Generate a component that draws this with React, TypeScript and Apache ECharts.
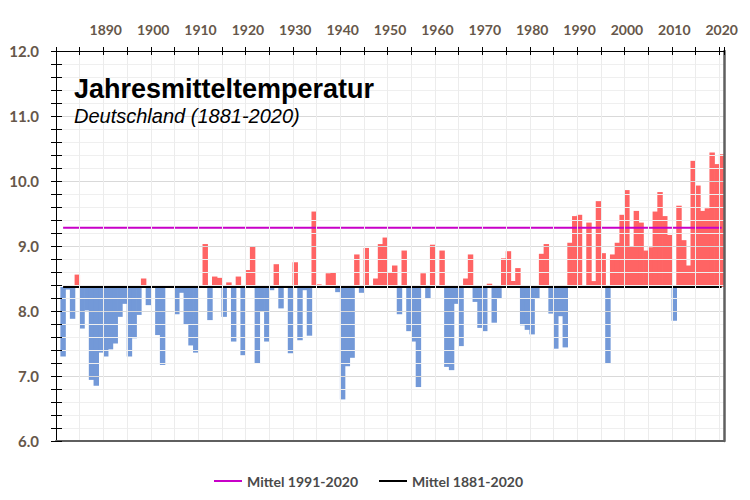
import React, { useEffect, useRef } from "react";
import * as echarts from "echarts";

// Years on the category axis (1880 is an empty leading slot, as in the original)
const YEARS: string[] = Array.from({ length: 141 }, (_, i) => String(1880 + i));

// Annual mean temperature, Germany (°C)
const temps1881_1900 = [7.30, 8.33, 7.88, 8.56, 7.73, 8.01, 6.94, 6.85, 7.36, 7.30, 7.41, 7.50, 7.91, 8.11, 7.30, 7.58, 7.94, 8.50, 8.09, 8.38];
const temps1901_1920 = [7.63, 7.17, 8.37, 8.36, 7.95, 8.28, 7.80, 7.47, 7.36, 8.40, 9.03, 7.86, 8.53, 8.51, 7.91, 8.44, 7.53, 8.53, 7.32, 8.63];
const temps1921_1940 = [8.99, 7.19, 7.99, 7.53, 8.32, 8.72, 8.04, 8.36, 7.35, 8.75, 7.55, 8.32, 7.62, 9.53, 8.41, 8.36, 8.58, 8.59, 8.29, 6.64];
const temps1941_1960 = [7.15, 7.28, 8.87, 8.28, 8.97, 8.37, 8.50, 9.03, 9.13, 8.59, 8.70, 7.95, 8.93, 7.69, 7.53, 6.83, 8.58, 8.20, 9.02, 8.39];
const temps1961_1980 = [8.93, 7.14, 7.09, 8.11, 7.46, 8.50, 8.87, 8.14, 7.74, 7.69, 8.42, 7.82, 8.20, 8.81, 8.92, 8.46, 8.66, 7.78, 7.71, 7.64];
const temps1981_2000 = [8.19, 8.88, 9.03, 7.96, 7.42, 7.92, 7.44, 9.05, 9.46, 9.48, 8.37, 9.36, 8.46, 9.69, 8.89, 7.19, 8.87, 9.05, 9.48, 9.86];
const temps2001_2020 = [9.00, 9.54, 9.36, 8.93, 8.98, 9.53, 9.83, 9.46, 9.17, 7.85, 9.62, 9.09, 8.70, 10.31, 9.93, 9.54, 9.58, 10.44, 10.26, 10.41];

// Reference means
const MEAN_1881_2020 = 8.37;
const MEAN_1991_2020 = 9.28;

const LEGEND_NAMES = ["Mittel 1991-2020", "Mittel 1881-2020"];
const TITLE = "Jahresmitteltemperatur";
const SUBTITLE = "Deutschland (1881-2020)";

const RED = "#ff6464";
const BLUE = "#7399d8";
const LABEL_COLOR = "#66574a";
const FONT = "Lato";

export default function App() {
  const ref = useRef<HTMLDivElement>(null);

  useEffect(() => {
    if (!ref.current) return;
    const chart = echarts.init(ref.current, undefined, { renderer: "svg" });

    const temps = [
      ...temps1881_1900, ...temps1901_1920, ...temps1921_1940, ...temps1941_1960,
      ...temps1961_1980, ...temps1981_2000, ...temps2001_2020,
    ];
    // [category index, temperature]; index 0 is the empty 1880 slot
    const barData = temps.map((v, i) => [i + 1, v]);
    const lineA = [null, ...temps.map(() => MEAN_1991_2020)];
    const lineB = [null, ...temps.map(() => MEAN_1881_2020)];

    const tickInt = (_i: number, v: string) => Number(v) % 5 === 0;
    const labelInt = (_i: number, v: string) => Number(v) % 10 === 0 && Number(v) > 1880;

    const yCommon = { type: "value", min: 6, max: 12, interval: 1 };

    const renderBar = (_params: any, api: any) => {
      const idx = api.value(0);
      const v = api.value(1);
      const top = api.coord([idx, v]);
      const base = api.coord([idx, MEAN_1881_2020]);
      const w = api.size([1, 0])[0];
      const h = Math.abs(top[1] - base[1]);
      return {
        type: "rect",
        shape: { x: top[0] - w / 2 - 0.35, y: Math.min(top[1], base[1]), width: w + 0.7, height: h },
        style: { fill: v >= MEAN_1881_2020 ? RED : BLUE },
      };
    };

    chart.setOption({
      animation: false,
      grid: { left: 56, right: 26, top: 51, bottom: 59, containLabel: false },
      legend: {
        data: LEGEND_NAMES,
        icon: "rect",
        left: 209,
        top: 469,
        itemWidth: 28,
        itemHeight: 2,
        itemGap: 21,
        textStyle: { fontFamily: FONT, fontWeight: "bold", fontSize: 14, color: "#4a4a4a" },
      },
      graphic: [
        {
          type: "text",
          x: 74,
          y: 88.5,
          style: {
            text: TITLE,
            fontFamily: "Liberation Sans",
            fontWeight: "bold",
            fontSize: 27,
            fill: "#000",
            verticalAlign: "middle",
          },
          z: 100,
        },
        {
          type: "text",
          x: 74,
          y: 116,
          style: {
            text: SUBTITLE,
            fontFamily: "Liberation Sans",
            fontStyle: "italic",
            fontSize: 20,
            fill: "#000",
            verticalAlign: "middle",
          },
          z: 100,
        },
      ],
      xAxis: [
        {
          type: "category",
          data: YEARS,
          position: "top",
          boundaryGap: true,
          axisLine: { show: true, lineStyle: { color: "#000", width: 1 } },
          axisTick: { show: true, length: 4, interval: tickInt, lineStyle: { color: "#000" } },
          axisLabel: {
            interval: labelInt,
            margin: 15,
            color: LABEL_COLOR,
            fontFamily: FONT,
            fontWeight: "bold",
            fontSize: 14,
          },
          splitLine: { show: true, interval: tickInt, lineStyle: { color: "#ececec", width: 1 } },
          z: 10,
        },
        {
          type: "category",
          data: YEARS,
          position: "top",
          boundaryGap: true,
          axisLine: { show: false },
          axisTick: { show: true, inside: true, length: 4, interval: tickInt, lineStyle: { color: "#000" } },
          axisLabel: { show: false },
          splitLine: { show: false },
          z: 10,
        },
        {
          type: "category",
          data: YEARS,
          position: "bottom",
          boundaryGap: true,
          axisLine: { show: true, lineStyle: { color: "#5f5f5f", width: 2 } },
          axisTick: { show: false },
          axisLabel: { show: false },
          splitLine: { show: false },
          z: 10,
        },
      ],
      yAxis: [
        {
          ...yCommon,
          position: "left",
          axisLine: { show: true, lineStyle: { color: "#000", width: 1 } },
          axisTick: { show: true, length: 5, lineStyle: { color: "#000" } },
          minorTick: { show: true, splitNumber: 5, length: 5, lineStyle: { color: "#000" } },
          axisLabel: {
            formatter: (v: number) => v.toFixed(1),
            margin: 17,
            color: LABEL_COLOR,
            fontFamily: FONT,
            fontWeight: "bold",
            fontSize: 15,
          },
          splitLine: { show: true, lineStyle: { color: "#d9d9d9", width: 1 } },
          minorSplitLine: { show: true, lineStyle: { color: "#efefef", width: 1 } },
          z: 10,
        },
        {
          ...yCommon,
          position: "left",
          axisLine: { show: false },
          axisTick: { show: true, inside: true, length: 6, lineStyle: { color: "#000" } },
          minorTick: { show: true, splitNumber: 5, length: 6, lineStyle: { color: "#000" } },
          axisLabel: { show: false },
          splitLine: { show: false },
          z: 10,
        },
        {
          ...yCommon,
          position: "right",
          axisLine: { show: true, lineStyle: { color: "#5f5f5f", width: 2.5 } },
          axisTick: { show: false },
          axisLabel: { show: false },
          splitLine: { show: false },
          z: 10,
        },
      ],
      series: [
        {
          type: "custom",
          renderItem: renderBar,
          data: barData,
          encode: { x: 0, y: 1 },
          silent: true,
          z: 2,
          xAxisIndex: 0,
          yAxisIndex: 0,
        },
        {
          name: LEGEND_NAMES[0],
          type: "line",
          data: lineA,
          symbol: "none",
          lineStyle: { color: "#c800c8", width: 2 },
          itemStyle: { color: "#c800c8" },
          z: 5,
          xAxisIndex: 0,
          yAxisIndex: 0,
        },
        {
          name: LEGEND_NAMES[1],
          type: "line",
          data: lineB,
          symbol: "none",
          lineStyle: { color: "#000", width: 2 },
          itemStyle: { color: "#000" },
          z: 5,
          xAxisIndex: 0,
          yAxisIndex: 0,
        },
      ],
    });

    return () => chart.dispose();
  }, []);

  return (
    <div
      ref={ref}
      style={{ position: "fixed", left: 0, top: 0, width: 750, height: 500, background: "#fff" }}
    />
  );
}
